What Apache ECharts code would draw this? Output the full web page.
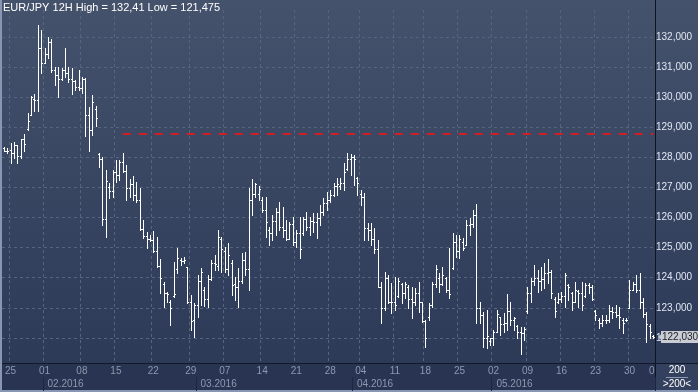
<!DOCTYPE html>
<html><head><meta charset="utf-8">
<script src="https://cdn.jsdelivr.net/npm/echarts@6/dist/echarts.min.js"></script>
<style>html,body{margin:0;padding:0;background:#2c3957;}#c{width:698px;height:392px;}</style>
</head><body><div id="c"></div>
<script>
const titleText = 'EUR/JPY 12H High = 132,41 Low = 121,475';
// week-start labels (week 0 is a partial week without a label)
const weekTicks = ['25','01','08','15','22','29','07','14','21','28','04','11','18','25','02','09','16','23','30'];
// 12H bars per week, as counted on the reference
const weekBarCounts = [2,10,11,10,11,11,10,11,10,10,9,10,9,10,10,10,10,10,10,8];
const monthTicks = ['02.2016','03.2016','04.2016','05.2016'];
// month start as [week, bar within week]
const monthStarts = [[2,0],[6,2],[10,7],[15,0]];
const resistanceLevel = 128.8;
const resistanceStartBar = 35;
const lastPrice = 122.03;

const opens = [128.30,128.22,128.25,128.15,128.40,128.05,128.60,128.95,129.40,129.95,
129.90,131.65,131.13,131.45,131.82,130.90,130.75,130.60,130.90,130.82,
130.60,130.55,130.35,130.30,130.60,129.40,128.90,129.60,128.10,127.95,
125.95,127.00,126.90,127.50,127.40,127.85,127.55,126.98,127.10,126.75,
126.60,125.62,125.40,125.30,125.25,124.90,124.40,123.80,123.50,123.20,
123.40,124.30,124.60,124.55,124.35,123.20,122.60,123.10,123.90,123.60,
123.30,123.95,124.50,124.40,125.30,124.90,124.30,124.50,123.80,123.70,
123.90,124.60,124.30,126.60,126.80,126.80,126.60,126.25,125.60,125.50,
125.90,126.20,125.70,125.60,125.30,125.80,125.20,125.50,125.50,125.95,
125.70,125.90,125.85,126.00,126.20,126.50,126.60,126.75,127.05,127.05,
127.15,127.60,127.95,128.00,127.30,126.80,126.70,125.65,125.60,125.30,
124.95,123.70,123.00,124.00,123.20,123.20,123.40,123.80,123.50,123.70,
123.30,123.20,123.50,123.20,122.55,122.70,123.10,123.80,124.00,123.80,
124.00,123.60,124.33,125.20,124.90,125.20,125.10,125.75,125.80,126.10,
123.00,122.75,122.00,121.90,122.00,122.20,122.70,122.45,122.50,122.90,
122.60,122.40,122.20,122.15,122.90,123.50,123.90,124.00,123.90,123.95,
124.15,124.20,123.30,123.20,123.30,123.40,123.76,123.50,123.20,123.55,
123.50,123.40,123.75,123.70,122.90,122.60,122.50,122.60,122.60,122.90,
122.85,122.75,122.60,122.60,123.00,123.60,123.80,123.60,123.20,122.80,
122.40,122.05];
const highs = [128.33,128.30,128.48,128.50,128.41,128.62,128.78,129.48,130.05,130.10,
132.41,132.23,131.63,132.00,131.93,131.00,131.00,130.97,131.63,131.00,
130.97,130.57,130.90,130.67,130.64,129.67,130.07,129.70,128.15,128.00,
127.58,127.15,127.58,127.91,127.91,128.15,127.75,127.28,127.38,127.18,
126.98,125.92,125.52,125.42,125.55,125.35,124.62,123.85,123.52,123.26,
124.52,124.99,124.66,124.70,124.36,123.43,123.16,124.09,124.33,123.69,
124.09,124.59,124.76,125.59,125.35,125.02,125.15,124.59,124.03,124.33,
124.82,124.86,126.98,127.28,127.15,127.05,126.68,126.68,125.69,126.09,
126.32,126.52,126.35,125.92,125.85,126.02,125.59,126.02,126.02,126.19,
126.02,126.15,126.15,126.42,126.65,126.85,126.92,127.15,127.32,127.30,
127.82,128.15,128.12,128.08,127.35,126.92,126.82,125.82,125.82,125.65,
125.26,123.86,124.19,124.09,123.83,124.03,124.00,123.83,123.86,123.76,
123.69,123.66,123.86,123.20,122.60,123.16,123.86,124.43,124.16,124.36,
124.03,124.99,125.49,125.42,125.42,125.32,125.92,125.99,126.25,126.45,
123.20,122.86,122.93,122.00,122.27,122.93,122.70,122.83,123.46,123.20,
122.70,122.43,122.37,122.37,123.69,123.99,124.43,124.26,124.36,124.49,
124.62,124.25,123.36,123.49,123.53,124.16,123.80,123.53,123.86,123.59,
123.86,123.83,123.83,123.76,122.93,122.67,122.77,122.77,123.10,123.03,
123.10,123.03,122.67,122.65,123.93,123.86,124.09,124.16,123.33,122.85,
122.45,122.10];
const lows = [128.20,128.15,127.82,127.98,127.82,127.98,128.22,128.91,129.40,129.55,
129.55,130.82,131.13,131.30,130.85,130.41,130.00,130.57,130.67,130.50,
130.10,130.24,130.24,130.14,128.71,128.21,128.74,129.04,127.68,125.75,
125.35,126.65,126.70,127.18,127.25,127.52,126.58,126.68,126.58,126.52,
125.60,125.32,124.99,125.22,124.86,124.36,123.50,123.03,123.20,122.43,
123.36,124.16,124.43,124.50,123.16,122.27,122.03,122.70,123.10,123.06,
123.03,123.93,124.26,124.26,124.19,124.19,124.09,123.43,123.26,123.03,
123.83,124.09,123.59,126.09,126.68,126.60,126.19,125.35,125.09,125.26,
125.42,125.59,125.35,125.26,125.28,125.09,125.02,124.66,125.42,125.59,
125.42,125.52,125.32,125.75,126.09,126.25,126.52,126.72,126.75,126.95,
126.92,127.58,127.42,127.08,126.75,126.42,125.26,125.26,125.09,124.82,
123.69,122.50,122.93,123.16,122.83,122.93,123.36,123.16,123.33,123.00,
122.66,123.10,122.86,122.53,121.70,122.60,123.03,123.69,123.53,123.76,
123.53,123.33,124.30,124.69,124.66,124.92,125.09,125.42,125.69,122.50,
122.50,121.70,121.67,121.77,121.77,122.20,122.10,122.20,122.27,122.43,
122.27,122.00,121.47,121.93,122.83,123.20,123.76,123.53,123.59,123.66,
123.83,123.33,122.70,123.16,123.20,123.03,123.26,122.93,123.20,123.03,
122.93,123.36,123.50,123.26,122.60,122.33,122.40,122.50,122.53,122.67,
122.70,122.33,122.17,122.55,123.00,123.60,123.53,123.00,122.70,121.87,
122.00,122.00];
const closes = [128.22,128.20,128.15,128.40,128.05,128.60,128.45,129.20,130.00,129.90,
131.65,131.13,131.45,131.82,130.90,130.75,130.60,130.90,130.82,130.60,
130.55,130.35,130.30,130.60,129.40,128.90,129.85,129.30,127.95,125.95,
127.20,126.90,127.50,127.40,127.85,127.55,126.98,127.10,126.75,126.60,
125.62,125.40,125.30,125.25,124.90,124.40,124.00,123.50,123.45,123.00,
123.45,124.65,124.55,124.60,123.20,122.55,123.10,123.90,124.20,123.30,
123.95,124.50,124.45,125.35,124.95,124.30,124.75,123.75,123.70,123.90,
124.60,124.30,126.60,126.80,127.10,126.95,126.25,125.85,125.50,125.90,
126.20,125.70,125.60,125.30,125.80,125.20,125.50,124.95,125.95,125.70,
125.90,125.85,126.00,126.20,126.50,126.60,126.75,127.05,127.10,127.15,
127.50,127.95,128.00,127.95,127.15,126.70,125.65,125.60,125.30,124.95,
123.70,123.00,124.00,123.20,123.20,123.10,123.90,123.50,123.80,123.30,
123.20,123.50,123.20,122.55,122.00,123.10,123.80,124.30,123.80,124.10,
123.60,123.45,125.20,124.90,125.30,125.00,125.75,125.80,126.10,123.00,
122.75,122.00,122.05,122.00,122.20,122.80,122.45,122.50,122.90,122.60,
122.65,122.20,122.15,122.30,123.50,123.90,124.00,123.90,123.95,124.15,
124.20,123.50,122.90,123.30,123.40,124.10,123.70,123.20,123.60,123.50,
123.10,123.75,123.70,123.30,122.75,122.50,122.60,122.60,122.90,122.85,
122.75,122.70,122.50,122.60,123.60,123.80,123.60,123.20,122.80,122.45,
122.20,122.03];

const N = opens.length;
// one category per 12H bar, grouped by week
const cats = [];
const weekIdx = {}, monthIdx = {};
weekBarCounts.forEach((cnt, w) => {
  for (let b = 0; b < cnt; b++) {
    const ms = monthStarts.findIndex(m => m[0] === w && m[1] === b);
    if (ms >= 0) monthIdx[cats.length] = monthTicks[ms];
    if (b === 0 && w > 0) weekIdx[cats.length] = weekTicks[w - 1];
    cats.push('w' + w + 'b' + b);
  }
});
const bars = opens.map((o, i) => [i, o, highs[i], lows[i], closes[i]]);

const grid = '#56657f';
const fmt = v => v.toFixed(3).replace('.', ',');
const chart = echarts.init(document.getElementById('c'));
const yColors = [];
for (let v = 121; v <= 132; v++) yColors.push(grid);
yColors.push('rgba(0,0,0,0)');

chart.setOption({
  animation: false,
  backgroundColor: new echarts.graphic.LinearGradient(0, 0, 0, 1, [
    {offset: 0, color: '#45526c'}, {offset: 1, color: '#2b3856'}]),
  title: {text: titleText, left: 3, top: 2, padding: 0,
    textStyle: {color: '#ffffff', fontSize: 11, fontWeight: 'normal', fontFamily: 'Liberation Sans'}},
  grid: {left: 2, right: 43, top: 10, bottom: 24},
  xAxis: [
    {type: 'category', data: cats, boundaryGap: true,
      axisLine: {show: false}, axisTick: {show: false}, axisLabel: {show: false},
      splitLine: {show: true, interval: i => weekIdx[i] !== undefined,
        lineStyle: {color: grid, type: [3, 3], width: 1}}},
    {type: 'category', data: cats, boundaryGap: true, position: 'bottom', offset: -5, z: 100,
      axisLine: {show: false}, axisTick: {show: false}, splitLine: {show: false},
      axisLabel: {show: true, interval: i => weekIdx[i] !== undefined,
        formatter: (v, i) => weekIdx[i] || '', color: '#8d99b0', fontSize: 10,
        fontFamily: 'Liberation Sans', margin: 3}},
    {type: 'category', data: cats, boundaryGap: true, position: 'bottom', offset: 9, z: 100,
      axisLine: {show: false}, splitLine: {show: false},
      axisTick: {show: true, interval: i => monthIdx[i] !== undefined, length: 14,
        lineStyle: {color: '#1d273d', width: 1}},
      axisLabel: {show: true, interval: i => monthIdx[i] !== undefined,
        formatter: (v, i) => monthIdx[i] || '', color: '#8d99b0', fontSize: 10,
        fontFamily: 'Liberation Sans', margin: 2, align: 'left', padding: [0, 0, 0, 3]}}
  ],
  yAxis: {type: 'value', position: 'right', min: 121, max: 132.9, interval: 1,
    axisLine: {show: false}, axisTick: {show: false},
    axisLabel: {color: '#dfe7f4', fontSize: 10, fontFamily: 'Liberation Sans', margin: 1,
      showMaxLabel: false, formatter: fmt},
    splitLine: {show: true, lineStyle: {color: yColors, type: [3, 3], width: 1}}},
  series: [
    {type: 'custom', xAxisIndex: 0, data: bars, z: 5,
      encode: {x: 0, y: [1, 2, 3, 4]},
      renderItem: (params, api) => {
        const i = api.value(0);
        const pO = api.coord([i, api.value(1)]);
        const pH = api.coord([i, api.value(2)]);
        const pL = api.coord([i, api.value(3)]);
        const pC = api.coord([i, api.value(4)]);
        const R = Math.round(pH[0]);
        const st = {stroke: '#ffffff', lineWidth: 1};
        const yo = Math.round(pO[1]) + 0.5, yc = Math.round(pC[1]) + 0.5;
        return {type: 'group', children: [
          {type: 'line', shape: {x1: R + 0.5, y1: Math.round(pH[1]), x2: R + 0.5, y2: Math.round(pL[1]) + 1}, style: st},
          {type: 'line', shape: {x1: R - 1, y1: yo, x2: R, y2: yo}, style: st},
          {type: 'line', shape: {x1: R + 1, y1: yc, x2: R + 2, y2: yc}, style: st}
        ]};
      }},
    {type: 'line', xAxisIndex: 0, data: [], z: 4, silent: true,
      markLine: {silent: true, symbol: ['none', 'none'], animation: false,
        data: [
          [{coord: [resistanceStartBar, resistanceLevel]}, {coord: [N - 1, resistanceLevel]}],
          {yAxis: lastPrice, lineStyle: {color: 'rgba(0,0,0,0)', width: 0},
            label: {show: true, position: 'end', distance: 6, formatter: fmt(lastPrice),
              backgroundColor: '#c9ccd3', color: '#1b1e26', fontSize: 10,
              fontFamily: 'Liberation Sans', padding: [1, 2, 1, 1], opacity: 1}}
        ],
        lineStyle: {color: '#d0201f', type: [8, 8], width: 2},
        label: {show: false}},
      markPoint: {silent: true, animation: false,
        data: [{coord: [N - 1, lastPrice], symbol: 'triangle', symbolSize: [12, 6],
          symbolRotate: 90, symbolOffset: [8, 0], itemStyle: {color: '#c9ccd3'},
          label: {show: false}}]}}
  ],
  graphic: [
    {type: 'rect', z: 50, shape: {x: 0, y: 363, width: 698, height: 29}, style: {fill: '#283451'}},
    {type: 'text', z: 60, x: 649, y: 366, style: {text: '06', fill: '#8d99b0', fontSize: 10, fontFamily: 'Liberation Sans'}},
    {type: 'line', z: 70, shape: {x1: 0, y1: 363.5, x2: 698, y2: 363.5}, style: {stroke: '#121a2a', lineWidth: 1}},
    {type: 'rect', z: 70, shape: {x: 656, y: 364, width: 42, height: 28}, style: {fill: '#34415e'}},
    {type: 'line', z: 75, shape: {x1: 655.5, y1: 0, x2: 655.5, y2: 392}, style: {stroke: '#0f1422', lineWidth: 1}},
    {type: 'text', z: 75, x: 677, y: 365, style: {text: '200', fill: '#ffffff', fontSize: 10, fontFamily: 'Liberation Sans', align: 'center'}},
    {type: 'line', z: 75, shape: {x1: 666, y1: 377.5, x2: 688, y2: 377.5}, style: {stroke: '#8d99b0', lineWidth: 1}},
    {type: 'text', z: 75, x: 677, y: 379, style: {text: '>200<', fill: '#ffffff', fontSize: 10, fontFamily: 'Liberation Sans', align: 'center'}},
    {type: 'rect', z: 80, shape: {x: 0, y: 0, width: 2, height: 392}, style: {fill: '#8796b2'}},
    {type: 'rect', z: 80, shape: {x: 0, y: 390, width: 698, height: 2}, style: {fill: '#8796b2'}}
  ]
});
</script></body></html>
